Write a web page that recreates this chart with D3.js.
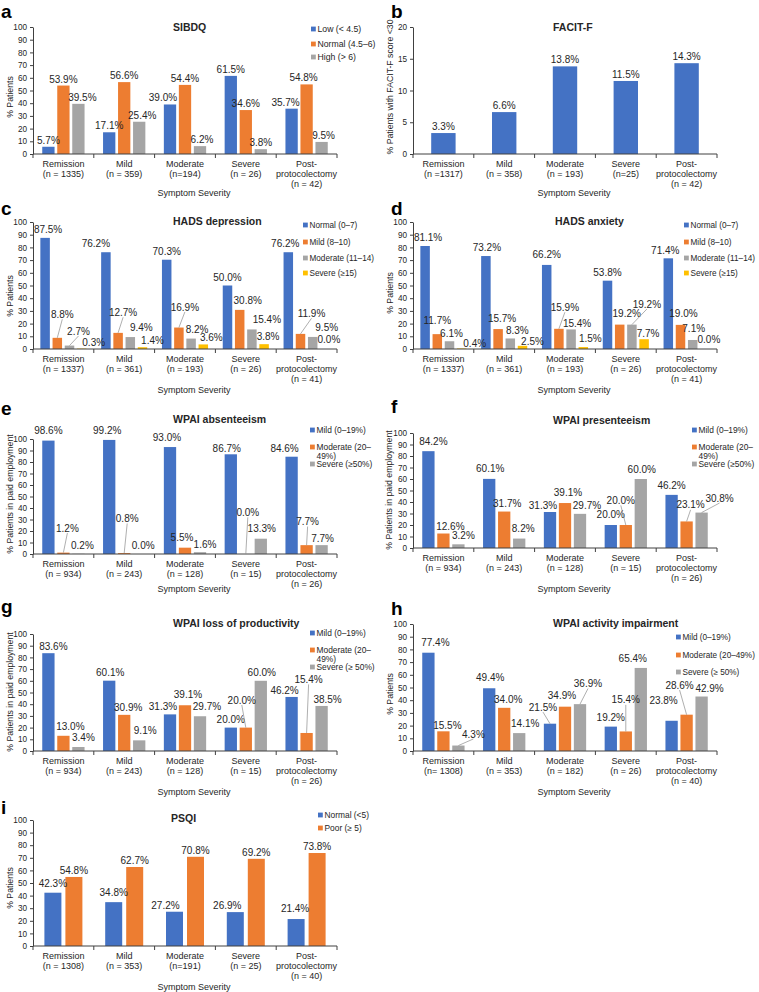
<!doctype html>
<html>
<head>
<meta charset="utf-8">
<title>Symptom severity panels</title>
<script src="https://cdnjs.cloudflare.com/ajax/libs/d3/7.8.5/d3.min.js"></script>
<style>
  body { margin: 0; background: #fff; }
  svg { display: block; font-family: "Liberation Sans", Arial, sans-serif; }
</style>
</head>
<body>
<div id="chart"></div>
<script>
// categories shared by all panels
const categories = ["Remission", "Mild", "Moderate", "Severe", "Post-protocolectomy"];

// n per category, as printed under each panel
const nSibdq = ["(n = 1335)", "(n = 359)", "(n=194)", "(n = 26)", "(n = 42)"];
const nFacit = ["(n  =1317)", "(n = 358)", "(n = 193)", "(n=25)", "(n = 42)"];
const nHads = ["(n = 1337)", "(n = 361)", "(n = 193)", "(n = 26)", "(n = 41)"];
const nWork = ["(n = 934)", "(n = 243)", "(n = 128)", "(n = 15)", "(n = 26)"];
const nActivity = ["(n= 1308)", "(n = 353)", "(n = 182)", "(n = 26)", "(n = 40)"];
const nPsqi = ["(n = 1308)", "(n = 353)", "(n=191)", "(n = 25)", "(n = 40)"];

// a: SIBDQ
const sibdqLow = [5.7, 17.1, 39.0, 61.5, 35.7];
const sibdqNormal = [53.9, 56.6, 54.4, 34.6, 54.8];
const sibdqHigh = [39.5, 25.4, 6.2, 3.8, 9.5];
// b: FACIT-F
const facitLow = [3.3, 6.6, 13.8, 11.5, 14.3];
// c: HADS depression
const depNormal = [87.5, 76.2, 70.3, 50.0, 76.2];
const depMild = [8.8, 12.7, 16.9, 30.8, 11.9];
const depModerate = [2.7, 9.4, 8.2, 15.4, 9.5];
const depSevere = [0.3, 1.4, 3.6, 3.8, 0.0];
// d: HADS anxiety
const anxNormal = [81.1, 73.2, 66.2, 53.8, 71.4];
const anxMild = [11.7, 15.7, 15.9, 19.2, 19.0];
const anxModerate = [6.1, 8.3, 15.4, 19.2, 7.1];
const anxSevere = [0.4, 2.5, 1.5, 7.7, 0.0];
// e: WPAI absenteeism
const absMild = [98.6, 99.2, 93.0, 86.7, 84.6];
const absModerate = [1.2, 0.8, 5.5, 0.0, 7.7];
const absSevere = [0.2, 0.0, 1.6, 13.3, 7.7];
// f: WPAI presenteeism
const presMild = [84.2, 60.1, 31.3, 20.0, 46.2];
const presModerate = [12.6, 31.7, 39.1, 20.0, 23.1];
const presSevere = [3.2, 8.2, 29.7, 60.0, 30.8];
// g: WPAI loss of productivity
const lossMild = [83.6, 60.1, 31.3, 20.0, 46.2];
const lossModerate = [13.0, 30.9, 39.1, 20.0, 15.4];
const lossSevere = [3.4, 9.1, 29.7, 60.0, 38.5];
// h: WPAI activity impairment
const actMild = [77.4, 49.4, 21.5, 19.2, 23.8];
const actModerate = [15.5, 34.0, 34.9, 15.4, 28.6];
const actSevere = [4.3, 14.1, 36.9, 65.4, 42.9];
// i: PSQI
const psqiNormal = [42.3, 34.8, 27.2, 26.9, 21.4];
const psqiPoor = [54.8, 62.7, 70.8, 69.2, 73.8];

const colors = ["#4472C4", "#ED7D31", "#A5A5A5", "#FFC000"];
const axisColor = "#404040";
const textColor = "#262626";

// label nudges [dx, dy, leader] per series / category (px, from the default spot above the bar)
const nudges = {
  a: [[[0,0],[0,0],[-7,0],[0,0],[-6,0]], [[0,0],[0,0],[0,0],[0,0],[-3,0]], [[4,0],[3,0],[2,0],[0,0],[2,0]]],
  c: [[[3,-2],[-10,-2],[0,-2],[0,-2],[-3,-2]],
      [[5,-17,1],[5,-14,1],[6,-14,1],[8,-3],[11,-14,1]],
      [[9,-8,1],[11,-3],[6,-3],[15,-3],[14,-3]],
      [[12,0],[10,0],[8,0],[4,-1],[4,-3]]],
  d: [[[3,-2],[1,-2],[0,-4],[0,-2],[-3,-1]],
      [[0,-7],[4,-4],[6,-15,1],[7,-5],[3,-5]],
      [[2,-1],[7,-1],[6,1],[15,-14,1],[1,-5]],
      [[13,2],[10,2],[7,-2],[4,1],[4,-3]]],
  e: [[[0,-4],[-2,-3],[-3,-3],[-4,1],[-7,-2]],
      [[4,-18,1],[3,-28,1],[-3,-4],[2,-35,1],[1,-17,1]],
      [[4,-2],[4,-2],[5,-1],[1,-4],[1,0]]],
  f: [[[5,-3],[1,-4],[-7,0],[0,-4],[0,-3]],
      [[7,-1],[3,-2],[3,-4],[-5,-18,1],[4,-10,1]],
      [[5,-2],[4,-4],[7,-2],[1,-3],[18,-8,1]]],
  g: [[[5,0],[1,-2],[-7,-1],[0,-2],[-7,0]],
      [[7,-3],[4,-1],[3,-4],[-4,-21,1],[2,-47,1]],
      [[5,-3],[6,-3],[7,-3],[1,-2],[6,0]]],
  h: [[[7,-4],[1,-4],[-7,-10,1],[0,-3],[-8,-14]],
      [[4,1],[4,-2],[-3,-5],[0,-25,1],[-7,-23,1]],
      [[15,-5,1],[6,-3],[8,-14,1],[-8,-3],[8,-2]]],
  i: [[[0,-3],[0,-3],[-9,0],[-8,0],[-1,-4]], [[0,0],[0,0],[0,0],[0,0],[0,0]]]
};

const panels = [
  { id: "a", x0: 33, x1: 337, yTop: 27, yBot: 154, yMax: 100, step: 10,
    title: "SIBDQ", titleX: 173, titleY: 31, yTitle: "% Patients", yTitleX: 10, yTitleY: 97,
    series: [sibdqLow, sibdqNormal, sibdqHigh], names: ["Low (< 4.5)", "Normal (4.5–6)", "High (> 6)"],
    ns: nSibdq, barW: 12.3, barStep: 15, legX: 311, legRows: [29, 44, 57], legFont: 8.7, letterX: 1, letterY: 18, xTitleDy: 42 },
  { id: "b", x0: 413, x1: 717, yTop: 27, yBot: 154, yMax: 20, step: 5,
    title: "FACIT-F", titleX: 553, titleY: 31, yTitle: "% Patients with FACIT-F score <30", yTitleX: 390, yTitleY: 87,
    series: [facitLow], names: [], ns: nFacit, barW: 24.4, barStep: 24.4, letterX: 391, letterY: 18, xTitleDy: 42 },
  { id: "c", x0: 33, x1: 337, yTop: 222, yBot: 349, yMax: 100, step: 10,
    title: "HADS depression", titleX: 173, titleY: 225, yTitle: "% Patients", yTitleX: 10, yTitleY: 296,
    series: [depNormal, depMild, depModerate, depSevere],
    names: ["Normal (0–7)", "Mild (8–10)", "Moderate (11–14)", "Severe (≥15)"],
    ns: nHads, barW: 9.5, barStep: 12.2, legX: 303, legRows: [225, 242, 258, 273], legFont: 8.2, letterX: 1, letterY: 215, xTitleDy: 44 },
  { id: "d", x0: 413, x1: 717, yTop: 222, yBot: 349, yMax: 100, step: 10,
    title: "HADS anxiety", titleX: 555, titleY: 225, yTitle: "% Patients", yTitleX: 390, yTitleY: 293,
    series: [anxNormal, anxMild, anxModerate, anxSevere],
    names: ["Normal (0–7)", "Mild (8–10)", "Moderate (11–14)", "Severe (≥15)"],
    ns: nHads, barW: 9.5, barStep: 12.2, legX: 684, legRows: [225, 242, 258, 273], legFont: 8.2, letterX: 391, letterY: 215, xTitleDy: 44 },
  { id: "e", x0: 33, x1: 337, yTop: 439, yBot: 554, yMax: 100, step: 10,
    title: "WPAI absenteeism", titleX: 173, titleY: 423, yTitle: "% Patients in paid employment", yTitleX: 10, yTitleY: 494,
    series: [absMild, absModerate, absSevere],
    names: ["Mild (0–19%)", "Moderate (20–\n49%)", "Severe (≥50%)"],
    ns: nWork, barW: 12.3, barStep: 15, legX: 310, legRows: [430, 447, 464], legFont: 8.4, letterX: 1, letterY: 415, xTitleDy: 37.5 },
  { id: "f", x0: 413, x1: 717, yTop: 433, yBot: 548, yMax: 100, step: 10,
    title: "WPAI presenteeism", titleX: 553, titleY: 424, yTitle: "% Patients in paid employment", yTitleX: 389, yTitleY: 490,
    series: [presMild, presModerate, presSevere],
    names: ["Mild (0–19%)", "Moderate (20–\n49%)", "Severe (≥50%)"],
    ns: nWork, barW: 12.3, barStep: 15, legX: 692, legRows: [430, 447, 464], legFont: 8.4, letterX: 391, letterY: 413, xTitleDy: 43.5 },
  { id: "g", x0: 33, x1: 337, yTop: 634, yBot: 751, yMax: 100, step: 10,
    title: "WPAI loss of productivity", titleX: 173, titleY: 627, yTitle: "% Patients in paid employment", yTitleX: 10, yTitleY: 692,
    series: [lossMild, lossModerate, lossSevere],
    names: ["Mild (0–19%)", "Moderate (20–\n49%)", "Severe (≥ 50%)"],
    ns: nWork, barW: 12.3, barStep: 15, legX: 310, legRows: [633, 650, 667], legFont: 8.4, letterX: 1, letterY: 613, xTitleDy: 44 },
  { id: "h", x0: 413, x1: 717, yTop: 624, yBot: 751, yMax: 100, step: 10,
    title: "WPAI activity impairment", titleX: 553, titleY: 627, yTitle: "% Patients", yTitleX: 390, yTitleY: 694,
    series: [actMild, actModerate, actSevere],
    names: ["Mild (0–19%)", "Moderate (20–49%)", "Severe (≥ 50%)"],
    ns: nActivity, barW: 12.3, barStep: 15, legX: 676, legRows: [637, 655, 672], legFont: 8.2, letterX: 391, letterY: 615, xTitleDy: 44 },
  { id: "i", x0: 33, x1: 337, yTop: 820, yBot: 946, yMax: 100, step: 10,
    title: "PSQI", titleX: 171, titleY: 822, yTitle: "% Patients", yTitleX: 10, yTitleY: 888,
    series: [psqiNormal, psqiPoor], names: ["Normal (<5)", "Poor (≥ 5)"],
    ns: nPsqi, barW: 17, barStep: 21, legX: 318, legRows: [815, 828], legFont: 8.4, letterX: 1, letterY: 814, xTitleDy: 44 }
];

const svg = d3.select("#chart").append("svg")
  .attr("width", 759)
  .attr("height", 992);

function drawPanel(p) {
  const g = svg.append("g").attr("class", "panel-" + p.id);
  const x = d3.scaleBand().domain(categories).range([p.x0, p.x1]);
  const y = d3.scaleLinear().domain([0, p.yMax]).range([p.yBot, p.yTop]);
  const n = p.series.length;
  const pad = 1 - p.barW / p.barStep;
  const inner = d3.scaleBand().domain(d3.range(n))
    .range([-n * p.barStep / 2, n * p.barStep / 2])
    .paddingInner(pad).paddingOuter(pad / 2);

  // bars
  p.series.forEach((vals, si) => {
    g.append("g").selectAll("rect")
      .data(vals)
      .join("rect")
      .attr("x", (d, i) => x(categories[i]) + x.bandwidth() / 2 + inner(si))
      .attr("y", d => y(d))
      .attr("width", inner.bandwidth())
      .attr("height", d => y(0) - y(d))
      .attr("fill", colors[si]);
  });

  // y axis
  const yAxis = d3.axisLeft(y)
    .tickValues(d3.range(0, p.yMax + 0.001, p.step))
    .tickSize(3).tickSizeOuter(0).tickPadding(3)
    .tickFormat(d3.format("d"));
  const ya = g.append("g").attr("transform", `translate(${p.x0},0)`).call(yAxis);
  ya.select(".domain").attr("stroke", axisColor);
  ya.selectAll(".tick line").attr("stroke", axisColor);
  ya.selectAll(".tick text").attr("fill", textColor).style("font-size", "8.2px")
    .style("font-family", "'Liberation Sans', Arial, sans-serif");

  // x axis with separators between categories
  g.append("line")
    .attr("x1", p.x0).attr("x2", p.x1)
    .attr("y1", y(0)).attr("y2", y(0))
    .attr("stroke", axisColor);
  const bounds = d3.range(categories.length + 1).map(i => p.x0 + i * x.step());
  g.append("g").selectAll("line").data(bounds).join("line")
    .attr("x1", d => d).attr("x2", d => d)
    .attr("y1", y(0)).attr("y2", y(0) + 4)
    .attr("stroke", axisColor);

  // category labels
  categories.forEach((c, i) => {
    const lines = (c === "Post-protocolectomy" ? ["Post-", "protocolectomy"] : [c]).concat([p.ns[i]]);
    const t = g.append("text")
      .attr("text-anchor", "middle")
      .attr("fill", textColor)
      .style("font-size", "9px");
    lines.forEach((l, li) => {
      t.append("tspan")
        .attr("x", x(c) + x.bandwidth() / 2)
        .attr("y", p.yBot + 12.5 + li * 10.3)
        .text(l);
    });
  });

  // data labels (+ leader lines)
  p.series.forEach((vals, si) => {
    vals.forEach((v, i) => {
      const bc = x(categories[i]) + x.bandwidth() / 2 + inner(si) + inner.bandwidth() / 2;
      const top = y(v);
      const nd = (nudges[p.id] && nudges[p.id][si] && nudges[p.id][si][i]) || [0, 0];
      const cx = bc + nd[0];
      const cy = top - 6.6 + nd[1];
      if (nd[2]) {
        g.append("line")
          .attr("x1", bc).attr("y1", top)
          .attr("x2", cx).attr("y2", cy + 5)
          .attr("stroke", "#8c8c8c").attr("stroke-width", 0.7);
      }
      g.append("text")
        .attr("x", cx).attr("y", cy + 3.6)
        .attr("text-anchor", "middle")
        .attr("fill", textColor)
        .style("font-size", "10px")
        .text(v.toFixed(1) + "%");
    });
  });

  // legend
  p.names.forEach((name, k) => {
    const ry = p.legRows[k];
    g.append("rect")
      .attr("x", p.legX).attr("y", ry - 2.4)
      .attr("width", 4.8).attr("height", 4.8)
      .attr("fill", colors[k]);
    const t = g.append("text").attr("fill", textColor).style("font-size", p.legFont + "px");
    name.split("\n").forEach((l, li) => {
      t.append("tspan").attr("x", p.legX + 6.5).attr("y", ry + 3.1 + li * 8.4).text(l);
    });
  });

  // titles
  g.append("text")
    .attr("x", p.titleX).attr("y", p.titleY)
    .attr("fill", textColor)
    .style("font-size", "10.5px").style("font-weight", "bold")
    .text(p.title);

  g.append("text")
    .attr("transform", `translate(${p.yTitleX},${p.yTitleY}) rotate(-90)`)
    .attr("text-anchor", "middle")
    .attr("dy", "0.35em")
    .attr("fill", textColor)
    .style("font-size", "8.7px")
    .text(p.yTitle);

  g.append("text")
    .attr("x", (p.x0 + p.x1) / 2 + 9)
    .attr("y", p.yBot + p.xTitleDy)
    .attr("text-anchor", "middle")
    .attr("fill", textColor)
    .style("font-size", "9px")
    .text("Symptom Severity");

  // panel letter
  g.append("text")
    .attr("x", p.letterX).attr("y", p.letterY)
    .attr("fill", "#000")
    .style("font-size", "19px").style("font-weight", "bold")
    .text(p.id);
}

panels.forEach(drawPanel);
</script>
</body>
</html>
